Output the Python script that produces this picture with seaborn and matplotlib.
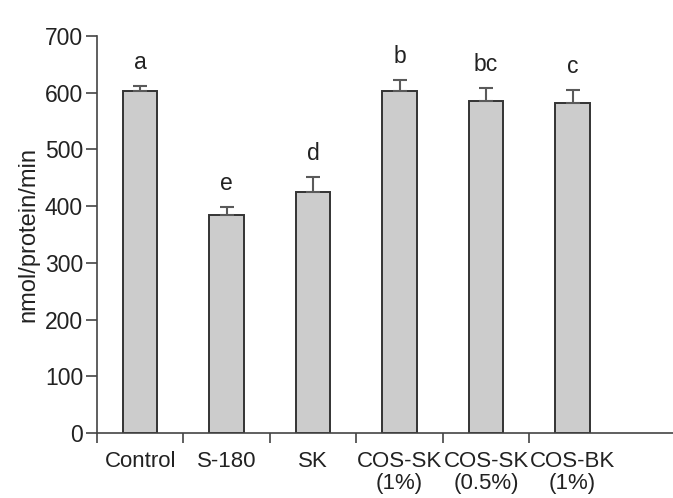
import numpy as np
import pandas as pd
import matplotlib
matplotlib.use("Agg")
import matplotlib.pyplot as plt
import seaborn as sns

# data
groups = ["Control", "S-180", "SK", "COS-SK\n(1%)", "COS-SK\n(0.5%)", "COS-BK\n(1%)"]
means = [602, 385, 424, 602, 585, 582]
errors = [10, 14, 28, 21, 23, 22]
letters = ["a", "e", "d", "b", "bc", "c"]
yticks = [0, 100, 200, 300, 400, 500, 600, 700]

sns.set_style("ticks")
plt.rcParams['font.family'] = ['Liberation Sans', 'DejaVu Sans']

df = pd.DataFrame({"group": groups, "value": means})

fig = plt.figure(figsize=(6.73, 4.98), dpi=100)
ax = fig.add_axes([0.144, 0.1305, 0.856, 0.7975])

sns.barplot(data=df, x="group", y="value", order=groups, color="#cccccc",
            edgecolor="#333333", linewidth=1.4, width=0.40, errorbar=None,
            saturation=1, ax=ax)

x = np.arange(len(groups))
ax.errorbar(x, means, yerr=[np.zeros(len(errors)), errors], fmt="none",
            ecolor="#5a5a5a", elinewidth=1.5, capsize=4.7, capthick=1.5, zorder=1)

for xi, m, e, lab in zip(x, means, errors, letters):
    ax.text(xi, m + e + 30, lab, ha="center", va="baseline", fontsize=16.5, color="#222222")

ax.set_ylim(0, 700)
ax.set_yticks(yticks)
ax.set_xlim(-0.5, 6.16)
ax.set_xlabel("")
ax.set_ylabel("nmol/protein/min", fontsize=17, color="#222222", labelpad=4)

ax.set_xticks(x)
ax.set_xticklabels(groups, fontsize=16, color="#222222", linespacing=1.08)
ax.tick_params(axis="x", which="major", length=0, pad=13)
ax.set_xticks(np.arange(-0.5, 5.0, 1.0), minor=True)
ax.tick_params(axis="x", which="minor", length=7, width=1.2, color="#444444", direction="out")
ax.tick_params(axis="y", length=8, width=1.2, color="#444444", labelsize=16.5,
               labelcolor="#222222", pad=2)

sns.despine(ax=ax)
for s in ["left", "bottom"]:
    ax.spines[s].set_color("#444444")
    ax.spines[s].set_linewidth(1.2)

fig.savefig("out.png", dpi=100)
